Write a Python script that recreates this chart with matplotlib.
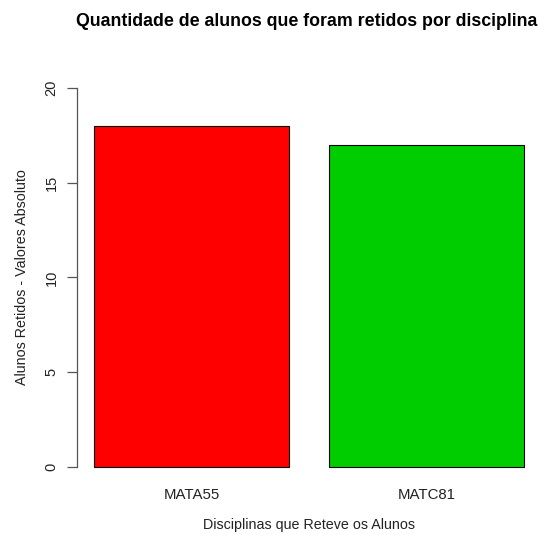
import matplotlib
matplotlib.use("Agg")
import matplotlib.pyplot as plt

categories = ["MATA55", "MATC81"]
values = [18, 17]
colors = ["#FF0000", "#00CD00"]
yticks = [0, 5, 10, 15, 20]

plt.rcParams['font.family'] = ['Liberation Sans', 'DejaVu Sans']

fig = plt.figure(figsize=(5.40, 5.35), dpi=100)
W, H = 540, 535
left, right, top, bottom = 76.8, 541.2, 72.8, 482.0
ax = fig.add_axes([left / W, 1 - bottom / H, (right - left) / W, (bottom - top) / H])

xs = [0.7, 1.9]
ax.bar(xs, values, width=1.0, color=colors, edgecolor="black", linewidth=0.8)
ax.set_xlim(0.112, 2.488)
ax.set_ylim(-0.8, 20.8)

for s in ["top", "right", "bottom"]:
    ax.spines[s].set_visible(False)
ax.spines["left"].set_bounds(0, 20)
ax.spines["left"].set_color("#555555")
ax.spines["left"].set_linewidth(0.9)

ax.set_yticks(yticks)
ax.set_yticklabels([str(v) for v in yticks], rotation=90, va="center", fontsize=10.5)
ax.tick_params(axis="y", length=7, width=0.9, color="#555555", pad=6, labelcolor="#222222")
ax.set_xticks(xs)
ax.set_xticklabels(categories, fontsize=10.8, color="#222222")
ax.tick_params(axis="x", length=0, pad=4)

fig.text(309 / W, 1 - 525 / H, "Disciplinas que Reteve os Alunos",
         ha="center", va="center", fontsize=10.3, color="#222222")
ax.set_ylabel("Alunos Retidos - Valores Absoluto", fontsize=10.3, labelpad=11, color="#222222")
fig.text(306.5 / W, 1 - 22 / H, "Quantidade de alunos que foram retidos por disciplina",
         ha="center", va="center", fontsize=12.8, fontweight="bold")

fig.savefig("out.png", dpi=100)
